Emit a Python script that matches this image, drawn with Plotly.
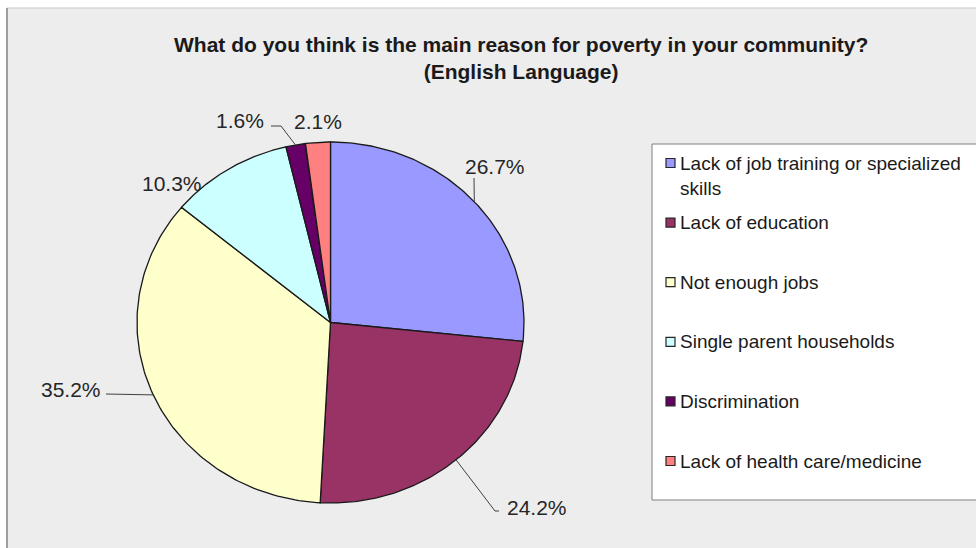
import numpy as np
import plotly.graph_objects as go

# ---- data -------------------------------------------------------------
categories = [
    "Lack of job training or specialized skills",
    "Lack of education",
    "Not enough jobs",
    "Single parent households",
    "Discrimination",
    "Lack of health care/medicine",
]
legend_text = [
    "Lack of job training or specialized<br>skills",
    "Lack of education",
    "Not enough jobs",
    "Single parent households",
    "Discrimination",
    "Lack of health care/medicine",
]
percent_values = [26.7, 24.2, 35.2, 10.3, 1.6, 2.1]
slice_colors = ["#9999FF", "#993366", "#FFFFCC", "#CCFFFF", "#660066", "#FF8080"]

title_text = ("<b>What do you think is the main reason for poverty in your community?"
              "<br>(English Language)</b>")

# ---- layout constants (axis units == pixels) --------------------------
W, H = 976, 548
CX, CY = 330.5, 322.5          # pie centre
RX, RY = 193.5, 180.5          # pie radii (slightly wide ellipse)
FONT = "Liberation Sans, Arial, sans-serif"

# label centres and leader-line elbows for each slice
label_pos = [(495, 166), (537, 507), (71, 389), (172, 183), (240, 120), (318, 121)]
leader_path = [
    [(474, 178)],
    [(495, 511), (499, 511)],
    [(106, 394)],
    None,
    [(281, 126), (271, 126)],
    None,
]


def edge_point(frac):
    a = 2 * np.pi * frac
    return CX + RX * np.sin(a), CY - RY * np.cos(a)


fig = go.Figure()

total = float(sum(percent_values))
cum = np.concatenate([[0.0], np.cumsum(percent_values)]) / total

# pie slices, clockwise from 12 o'clock
for i, (name, col) in enumerate(zip(categories, slice_colors)):
    a = np.linspace(cum[i], cum[i + 1], 120) * 2 * np.pi
    xs = np.concatenate([[CX], CX + RX * np.sin(a), [CX]])
    ys = np.concatenate([[CY], CY - RY * np.cos(a), [CY]])
    fig.add_trace(go.Scatter(
        x=xs, y=ys, mode="lines", fill="toself", fillcolor=col,
        line=dict(color="#1a1a1a", width=1.3), name=name,
        hoverinfo="name", showlegend=False,
    ))

# leader lines from each slice's mid-arc point to its label
for i, path in enumerate(leader_path):
    if path is None:
        continue
    ex, ey = edge_point((cum[i] + cum[i + 1]) / 2)
    px = [ex] + [p[0] for p in path]
    py = [ey] + [p[1] for p in path]
    fig.add_trace(go.Scatter(x=px, y=py, mode="lines",
                             line=dict(color="#404040", width=1),
                             hoverinfo="skip", showlegend=False))

annotations = [dict(
    x=521, y=57.5, xref="x", yref="y", text=title_text, showarrow=False,
    xanchor="center", yanchor="middle", align="center",
    font=dict(family=FONT, size=21, color="#1a1a1a"),
)]
for i, v in enumerate(percent_values):
    lx, ly = label_pos[i]
    annotations.append(dict(
        x=lx, y=ly, xref="x", yref="y", text=f"{v:.1f}%", showarrow=False,
        xanchor="center", yanchor="middle",
        font=dict(family=FONT, size=21, color="#262626"),
    ))

# background panel and legend box
shapes = [
    dict(type="rect", xref="x", yref="y", x0=7, y0=8, x1=990, y1=560,
         fillcolor="#ededed", line=dict(color="#c8c8c8", width=1), layer="below"),
    dict(type="line", xref="x", yref="y", x0=7, y0=8, x1=7, y1=548,
         line=dict(color="#8a8a8a", width=1.5), layer="below"),
    dict(type="rect", xref="x", yref="y", x0=652, y0=144, x1=990, y1=500,
         fillcolor="white", line=dict(color="#7f7f7f", width=1), layer="below"),
]
for i, (txt, col) in enumerate(zip(legend_text, slice_colors)):
    yc = 163 + i * 59.6
    shapes.append(dict(type="rect", xref="x", yref="y", x0=666, x1=675,
                       y0=yc - 4.5, y1=yc + 4.5, fillcolor=col,
                       line=dict(color="#262626", width=1.2)))
    annotations.append(dict(
        x=678, y=yc - 12.5, xref="x", yref="y", text=txt, showarrow=False,
        xanchor="left", yanchor="top", align="left",
        font=dict(family=FONT, size=19, color="#1a1a1a"),
    ))

fig.update_layout(
    width=W, height=H,
    margin=dict(l=0, r=0, t=0, b=0),
    paper_bgcolor="white", plot_bgcolor="rgba(0,0,0,0)",
    xaxis=dict(range=[0, W], visible=False, domain=[0, 1], fixedrange=True),
    yaxis=dict(range=[H, 0], visible=False, domain=[0, 1], fixedrange=True),
    shapes=shapes,
    annotations=annotations,
    showlegend=False,
)

fig.write_html("out.html")
